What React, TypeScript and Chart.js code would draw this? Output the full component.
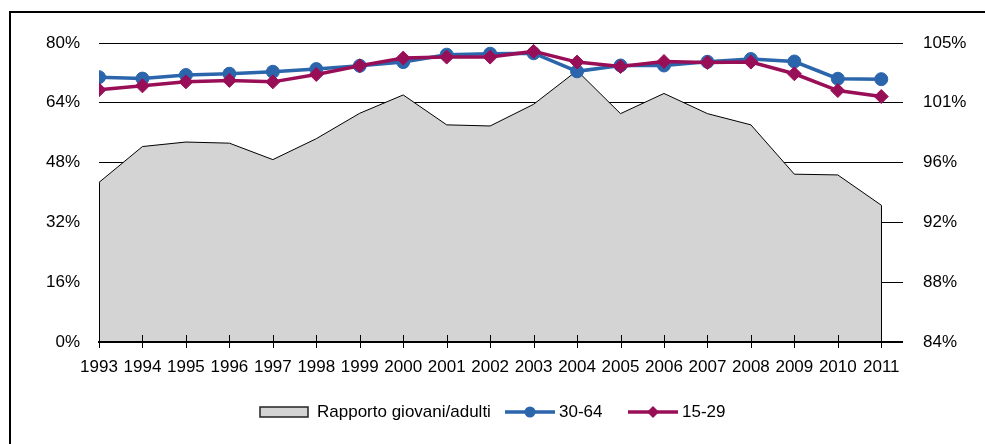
import React, { useEffect, useRef } from "react";
import { Chart, registerables } from "chart.js";

Chart.register(...registerables);

const years = ["1993", "1994", "1995", "1996", "1997", "1998", "1999", "2000", "2001", "2002", "2003", "2004", "2005", "2006", "2007", "2008", "2009", "2010", "2011"];
const rapportoGiovaniAdulti = [42.7, 52.3, 53.5, 53.2, 48.8, 54.4, 61.2, 66.1, 58.1, 57.8, 63.6, 72.6, 61.1, 66.5, 61.1, 58.1, 44.9, 44.7, 36.6];
const eta3064 = [102.6, 102.5, 102.75, 102.84, 102.98, 103.17, 103.4, 103.66, 104.18, 104.25, 104.28, 103.01, 103.42, 103.42, 103.68, 103.87, 103.7, 102.49, 102.46];
const eta1529 = [101.71, 101.99, 102.27, 102.37, 102.27, 102.79, 103.4, 103.94, 104.01, 104.01, 104.41, 103.66, 103.35, 103.7, 103.63, 103.66, 102.84, 101.66, 101.24];
const leftTicks = [0, 16, 32, 48, 64, 80];
const rightTickLabels = ["84%", "88%", "92%", "96%", "101%", "105%"];
const rightMin = 84;
const rightMax = 105;
const seriesNames = ["Rapporto giovani/adulti", "30-64", "15-29"];

const FONT = "'Liberation Sans', Arial, sans-serif";
const FSIZE = 17;
const BLUE = "#2B65AB";
const MAGENTA = "#990F57";
const GREY = "#D4D4D4";

export default function App() {
  const ref = useRef<HTMLCanvasElement>(null);

  useEffect(() => {
    document.body.style.margin = "0";
    const canvas = ref.current!;
    const xVals = years.map(Number);

    const decorPlugin = {
      id: "decor",
      afterDatasetDraw(chart: any, args: any) {
        if (args.index !== 0) return;
        const { ctx, scales } = chart;
        const pts = args.meta.data;
        const y0 = scales.y.getPixelForValue(0);
        ctx.save();
        ctx.strokeStyle = "#000";
        ctx.lineWidth = 1;
        [pts[0], pts[pts.length - 1]].forEach((p: any) => {
          ctx.beginPath();
          ctx.moveTo(Math.round(p.x) + 0.5, p.y);
          ctx.lineTo(Math.round(p.x) + 0.5, y0);
          ctx.stroke();
        });
        ctx.restore();
      },
      afterDatasetsDraw(chart: any) {
        const { ctx, chartArea, scales } = chart;
        const y0 = Math.round(scales.y.getPixelForValue(0));
        ctx.save();
        ctx.strokeStyle = "#000";
        ctx.lineWidth = 2;
        ctx.beginPath();
        ctx.moveTo(chartArea.left - 1, y0);
        ctx.lineTo(chartArea.right, y0);
        ctx.stroke();
        ctx.lineWidth = 1;
        xVals.forEach((v) => {
          const x = Math.round(scales.x.getPixelForValue(v)) + 0.5;
          ctx.beginPath();
          ctx.moveTo(x, y0 - 7);
          ctx.lineTo(x, y0 + 6);
          ctx.stroke();
        });
        ctx.restore();
      },
      afterDraw(chart: any) {
        const { ctx } = chart;
        ctx.save();
        // outer frame
        ctx.strokeStyle = "#000";
        ctx.lineWidth = 2;
        ctx.strokeRect(10, 12, 1100, 1100);
        // legend
        const ly = 412;
        ctx.font = `${FSIZE}px ${FONT}`;
        ctx.textBaseline = "middle";
        ctx.fillStyle = GREY;
        ctx.fillRect(260, 407, 48, 10);
        ctx.strokeStyle = "#222";
        ctx.lineWidth = 1.5;
        ctx.strokeRect(260, 407, 48, 10);
        ctx.fillStyle = "#000";
        ctx.textAlign = "left";
        ctx.fillText(seriesNames[0], 317, ly);

        ctx.strokeStyle = BLUE;
        ctx.lineWidth = 3.5;
        ctx.beginPath();
        ctx.moveTo(505, ly);
        ctx.lineTo(555, ly);
        ctx.stroke();
        ctx.fillStyle = BLUE;
        ctx.beginPath();
        ctx.arc(530, ly, 5.5, 0, Math.PI * 2);
        ctx.fill();
        ctx.fillStyle = "#000";
        ctx.fillText(seriesNames[1], 559, ly);

        ctx.strokeStyle = MAGENTA;
        ctx.beginPath();
        ctx.moveTo(628, ly);
        ctx.lineTo(678, ly);
        ctx.stroke();
        ctx.fillStyle = MAGENTA;
        ctx.beginPath();
        ctx.moveTo(653, ly - 6);
        ctx.lineTo(659, ly);
        ctx.lineTo(653, ly + 6);
        ctx.lineTo(647, ly);
        ctx.closePath();
        ctx.fill();
        ctx.fillStyle = "#000";
        ctx.fillText(seriesNames[2], 682, ly);
        ctx.restore();
      },
    };

    const chart = new Chart(canvas, {
      type: "line",
      data: {
        datasets: [
          {
            label: seriesNames[0],
            data: xVals.map((x, i) => ({ x, y: rapportoGiovaniAdulti[i] })),
            yAxisID: "y",
            fill: "origin",
            backgroundColor: GREY,
            borderColor: "#000",
            borderWidth: 1,
            pointRadius: 0,
            tension: 0,
            order: 3,
          },
          {
            label: seriesNames[1],
            data: xVals.map((x, i) => ({ x, y: eta3064[i] })),
            yAxisID: "y1",
            borderColor: BLUE,
            backgroundColor: BLUE,
            borderWidth: 3.5,
            pointStyle: "circle",
            pointRadius: 6.5,
            pointBorderWidth: 1,
            pointBackgroundColor: BLUE,
            pointBorderColor: BLUE,
            tension: 0,
            fill: false,
            order: 2,
          },
          {
            label: seriesNames[2],
            data: xVals.map((x, i) => ({ x, y: eta1529[i] })),
            yAxisID: "y1",
            borderColor: MAGENTA,
            backgroundColor: MAGENTA,
            borderWidth: 3.5,
            pointStyle: "rectRot",
            pointRadius: 7,
            pointBorderWidth: 1,
            pointBackgroundColor: MAGENTA,
            pointBorderColor: MAGENTA,
            tension: 0,
            fill: false,
            order: 1,
          },
        ],
      },
      options: {
        responsive: false,
        animation: false,
        devicePixelRatio: 1,
        layout: { padding: { top: 43, left: 0, right: 0, bottom: 0 } },
        plugins: { legend: { display: false }, tooltip: { enabled: false } },
        scales: {
          x: {
            type: "linear",
            min: Number(years[0]),
            max: Number(years[years.length - 1]) + 0.5,
            grid: { display: false, drawTicks: false },
            border: { display: false },
            afterBuildTicks: (scale: any) => {
              scale.ticks = xVals.map((v) => ({ value: v }));
            },
            afterFit: (scale: any) => {
              scale.height = 102;
            },
            ticks: {
              autoSkip: false,
              maxRotation: 0,
              padding: 15,
              color: "#000",
              font: { family: FONT, size: FSIZE },
              callback: (v: any) => String(v),
            },
          },
          y: {
            position: "left",
            min: 0,
            max: 80,
            afterBuildTicks: (scale: any) => {
              scale.ticks = leftTicks.map((v) => ({ value: v }));
            },
            afterFit: (scale: any) => {
              scale.width = 99;
            },
            grid: { color: "#000", lineWidth: 1, drawTicks: false },
            border: { display: false },
            ticks: {
              padding: 19,
              color: "#000",
              font: { family: FONT, size: FSIZE },
              callback: (v: any) => `${v}%`,
            },
          },
          y1: {
            position: "right",
            min: rightMin,
            max: rightMax,
            afterBuildTicks: (scale: any) => {
              const step = (rightMax - rightMin) / (rightTickLabels.length - 1);
              scale.ticks = rightTickLabels.map((_, i) => ({ value: rightMin + i * step }));
            },
            afterFit: (scale: any) => {
              scale.width = 82;
            },
            grid: { display: false, drawTicks: false },
            border: { display: false },
            ticks: {
              padding: 20,
              color: "#000",
              font: { family: FONT, size: FSIZE },
              callback: (_v: any, i: number) => rightTickLabels[i],
            },
          },
        },
      },
      plugins: [decorPlugin],
    } as any);

    return () => chart.destroy();
  }, []);

  return (
    <div style={{ width: 985, height: 444, background: "#fff" }}>
      <canvas ref={ref} width={985} height={444} style={{ display: "block" }} />
    </div>
  );
}
